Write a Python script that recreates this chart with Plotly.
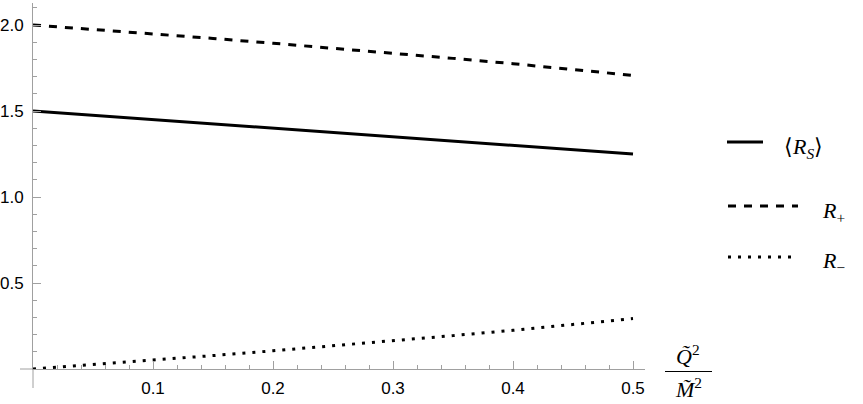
import plotly.graph_objects as go

# ---- data ----
q_ratio = [0.0, 0.05, 0.10, 0.15, 0.20, 0.25, 0.30, 0.35, 0.40, 0.45, 0.50]
r_s_mean = [1.500, 1.475, 1.450, 1.425, 1.400, 1.375, 1.350, 1.325, 1.300, 1.275, 1.250]
r_plus = [2.000, 1.975, 1.949, 1.922, 1.894, 1.866, 1.837, 1.806, 1.775, 1.742, 1.707]
r_minus = [0.000, 0.025, 0.051, 0.078, 0.106, 0.134, 0.163, 0.194, 0.225, 0.258, 0.293]

x_ticks = [0.1, 0.2, 0.3, 0.4, 0.5]
x_tick_text = ["0.1", "0.2", "0.3", "0.4", "0.5"]
y_ticks = [0.5, 1.0, 1.5, 2.0]
y_tick_text = ["0.5", "1.0", "1.5", "2.0"]

series_names = ["⟨<i>R</i><sub><i>S</i></sub>⟩", "<i>R</i><sub>+</sub>", "<i>R</i><sub>−</sub>"]
series_values = [r_s_mean, r_plus, r_minus]
series_dash = ["solid", "8px,8px", "3px,7px"]

W, H = 863, 404
L, R, T, B = 33, 218, 3, 35
AXIS_GRAY = "#a0a0a0"
NUM_FONT = dict(family="Liberation Sans", size=17, color="black")
SERIF = "Liberation Serif"

fig = go.Figure()
for name, vals, dash in zip(series_names, series_values, series_dash):
    fig.add_trace(go.Scatter(
        x=q_ratio, y=vals, mode="lines", name=name,
        line=dict(color="black", width=3, dash=dash),
        cliponaxis=False, showlegend=False,
    ))

fig.update_layout(
    width=W, height=H, autosize=False,
    margin=dict(l=L, r=R, t=T, b=B, pad=0, autoexpand=False),
    paper_bgcolor="white", plot_bgcolor="white",
    showlegend=False,
)

fig.update_xaxes(
    range=[0, 0.51], showgrid=False, zeroline=False, automargin=False,
    showline=True, linecolor=AXIS_GRAY, linewidth=1,
    tickmode="array", tickvals=x_ticks, ticktext=x_tick_text,
    ticks="inside", ticklen=8, tickcolor=AXIS_GRAY, tickwidth=1,
    tickfont=NUM_FONT, ticklabelstandoff=4,
    minor=dict(tickmode="linear", tick0=0, dtick=0.02, ticks="inside",
               ticklen=4, tickcolor=AXIS_GRAY, tickwidth=1, showgrid=False),
)
fig.update_yaxes(
    range=[0, 2.128], showgrid=False, zeroline=False, automargin=False,
    showline=True, linecolor=AXIS_GRAY, linewidth=1,
    tickmode="array", tickvals=y_ticks, ticktext=y_tick_text,
    ticks="inside", ticklen=8, tickcolor=AXIS_GRAY, tickwidth=1,
    tickfont=NUM_FONT, ticklabelstandoff=5,
    minor=dict(tickmode="linear", tick0=0, dtick=0.1, ticks="inside",
               ticklen=4, tickcolor=AXIS_GRAY, tickwidth=1, showgrid=False),
)

pw = W - L - R
ph = H - T - B

def px_x(px):
    return (px - L) / pw

def px_y(py):
    return (H - B - py) / ph

shapes = []
# small axis extensions past the origin
shapes.append(dict(type="line", xref="paper", yref="paper",
                   x0=px_x(20), x1=0, y0=0, y1=0,
                   line=dict(color=AXIS_GRAY, width=1)))
shapes.append(dict(type="line", xref="paper", yref="paper",
                   x0=0, x1=0, y0=px_y(388), y1=0,
                   line=dict(color=AXIS_GRAY, width=1)))

# axis label fraction bar
shapes.append(dict(type="line", xref="paper", yref="paper",
                   x0=px_x(665), x1=px_x(712), y0=px_y(371.5), y1=px_y(371.5),
                   line=dict(color="black", width=1)))

annotations = [
    dict(xref="paper", yref="paper", x=px_x(688), y=px_y(355),
         text="<i>Q̃</i><sup>2</sup>", showarrow=False,
         xanchor="center", yanchor="middle",
         font=dict(family=SERIF, size=22, color="black")),
    dict(xref="paper", yref="paper", x=px_x(688), y=px_y(388),
         text="<i>M̃</i><sup>2</sup>", showarrow=False,
         xanchor="center", yanchor="middle",
         font=dict(family=SERIF, size=22, color="black")),
]

# custom legend (Mathematica style)
legend_rows = [142, 206, 257]
legend_x0 = [727, 728, 728]
legend_x1 = [763, 798, 798]
legend_text_x = [782, 820, 820]
legend_text_y = [148, 212, 262]
for name, dash, yr, x0, x1, tx, ty in zip(series_names, series_dash, legend_rows,
                                          legend_x0, legend_x1, legend_text_x, legend_text_y):
    shapes.append(dict(type="line", xref="paper", yref="paper",
                       x0=px_x(x0), x1=px_x(x1), y0=px_y(yr), y1=px_y(yr),
                       line=dict(color="black", width=3, dash=dash)))
    annotations.append(dict(xref="paper", yref="paper", x=px_x(tx), y=px_y(ty),
                            text=name, showarrow=False,
                            xanchor="left", yanchor="middle",
                            font=dict(family=SERIF, size=22, color="black")))

fig.update_layout(shapes=shapes, annotations=annotations)

fig.write_html("out.html",
               config={"displayModeBar": False, "staticPlot": True},
               post_script="document.body.style.margin='0';document.body.style.padding='0';")
